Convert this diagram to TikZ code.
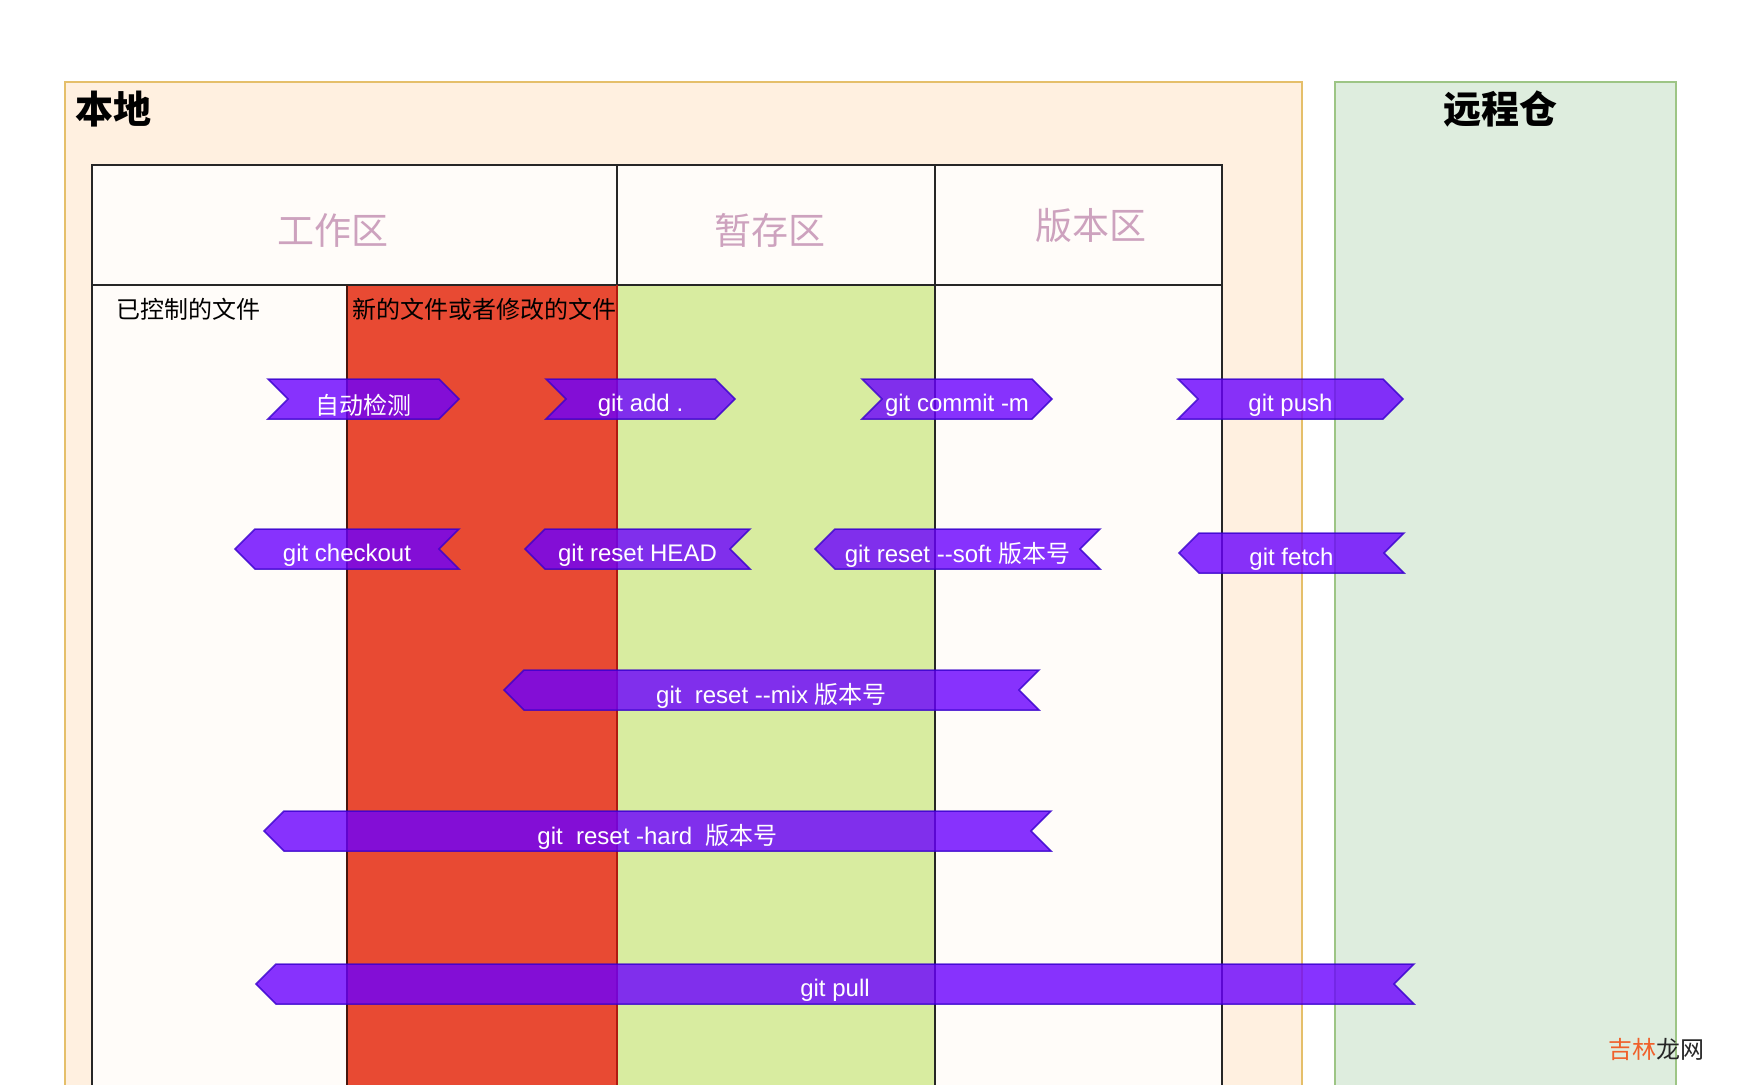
\documentclass[tikz,border=0pt]{standalone}
\usepackage{fontspec}
\setmainfont{Liberation Sans}
\newfontfamily\cjk{Noto Sans CJK SC}
\definecolor{orfill}{HTML}{FFF0E0}
\definecolor{orline}{HTML}{E5BF6A}
\definecolor{grfill}{HTML}{DEEDDE}
\definecolor{grline}{HTML}{9DC585}
\definecolor{cellfill}{HTML}{FFFCF9}
\definecolor{redcol}{HTML}{E84A33}
\definecolor{redline}{HTML}{B01A10}
\definecolor{greencol}{HTML}{D8ECA0}
\definecolor{headtxt}{HTML}{CDA2BE}
\definecolor{purp}{HTML}{6A00FF}
\definecolor{purpline}{HTML}{3700CC}
\definecolor{wmred}{HTML}{F0602A}
\tikzset{
  chev/.style={fill=purp, draw=purpline, fill opacity=0.8, draw opacity=0.8, line width=1.5pt, line join=miter},
  chevtext/.style={text=white, font=\fontsize{24}{24}\selectfont, inner sep=0pt, anchor=center},
  headtext/.style={text=headtxt, font=\cjk\fontsize{37}{37}\selectfont, inner sep=0pt, anchor=center},
  celltext/.style={text=black, font=\cjk\fontsize{24}{24}\selectfont, inner sep=0pt, anchor=west},
  bigtitle/.style={text=black, font=\cjk\bfseries\fontsize{38}{38}\selectfont, inner sep=0pt},
  gridline/.style={draw=black!85, line width=1.5pt},
}
\newcommand\chevR[5]{%
  \path[chev] (#2,#4-20) -- (#3-20,#4-20) -- (#3,#4) -- (#3-20,#4+20) -- (#2,#4+20) -- (#2+20,#4) -- cycle;
  \node[chevtext] (#1) at ({(#2+#3)/2},#4+6) {#5};}
\newcommand\chevL[5]{%
  \path[chev] (#2+20,#4-20) -- (#3,#4-20) -- (#3-20,#4) -- (#3,#4+20) -- (#2+20,#4+20) -- (#2,#4) -- cycle;
  \node[chevtext] (#1) at ({(#2+#3)/2},#4+6) {#5};}
\begin{document}
\begin{tikzpicture}[x=1pt,y=-1pt]
\useasboundingbox (0,0) rectangle (1744,1084);
\clip (0,0) rectangle (1744,1084);
\fill[white] (0,0) rectangle (1744,1084);
% outer boxes
\path[fill=orfill, draw=orline, line width=1.5pt] (65,82) rectangle (1302,1100);
\path[fill=grfill, draw=grline, line width=1.5pt] (1335,82) rectangle (1676,1100);
\node[bigtitle, anchor=west] (local) at (75,109) {本地};
\node[bigtitle] (remote) at (1500,109) {远程仓};
% table
\path[fill=cellfill] (92,165) rectangle (1222,1100);
\path[fill=redcol] (347,285) rectangle (617,1100);
\path[fill=greencol] (617,285) rectangle (935,1100);
\draw[gridline] (92,1100) -- (92,165) -- (1222,165) -- (1222,1100);
\draw[gridline] (92,285) -- (1222,285);
\draw[gridline] (617,165) -- (617,285);
\draw[gridline] (935,165) -- (935,1100);
\draw[line width=1.5pt, draw=black!70!redcol] (347,285) -- (347,1100);
\draw[line width=1.5pt, draw=redline] (617,285) -- (617,1100);
\node[headtext] (work) at (333,230) {工作区};
\node[headtext] (stage) at (770,230) {暂存区};
\node[headtext] (repo) at (1091,225) {版本区};
\node[celltext] (ctl) at (116,309) {已控制的文件};
\node[celltext] (newf) at (352,309) {新的文件或者修改的文件};
% arrows
\chevR{a1}{268}{459}{399}{\cjk 自动检测}
\chevR{a2}{546}{735}{399}{git add .}
\chevR{a3}{862}{1052}{399}{git commit -m}
\chevR{a4}{1178}{1403}{399}{git push}
\chevL{b1}{235}{459}{549}{git checkout}
\chevL{b2}{525}{750}{549}{git reset HEAD}
\chevL{b3}{815}{1100}{549}{git reset -{}-soft {\cjk 版本号}}
\chevL{b4}{1179}{1404}{553}{git fetch}
\chevL{c1}{504}{1039}{690}{git\ \ reset -{}-mix {\cjk 版本号}}
\chevL{c2}{264}{1051}{831}{git\ \ reset -hard\ \ {\cjk 版本号}}
\chevL{c3}{256}{1414}{984}{git pull}
% watermark
\node[inner sep=0pt, anchor=west, font=\cjk\fontsize{24}{24}\selectfont] (wm) at (1608,1049) {\textcolor{wmred}{吉林}\textcolor{black!85}{龙网}};
\end{tikzpicture}
\end{document}
